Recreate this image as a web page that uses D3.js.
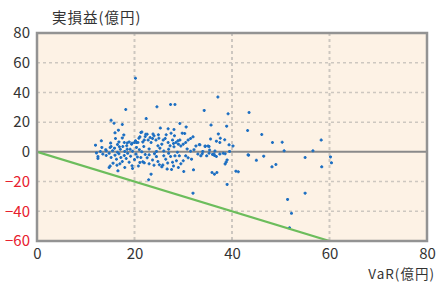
<!DOCTYPE html>
<html>
<head>
<meta charset="utf-8">
<script src="https://cdn.jsdelivr.net/npm/d3@7"></script>
<style>
body{margin:0;background:#fff;}
svg{display:block;font-family:"Noto Sans CJK JP","Noto Sans",sans-serif;}
</style>
</head>
<body>
<div id="chart"></div>
<script>
// 軸の目盛
var xTicks = [0, 20, 40, 60, 80];
var yTicks = [-60, -40, -20, 0, 20, 40, 60, 80];
var yLabel = '実損益(億円)';
var xLabel = 'VaR(億円)';

// 損失 = VaR の線
var varLine = [[0, 0], [60, -60]];

// [VaR, 実損益]
var samples = [
    // 上側・散らばった点
    [20.2,49.5],[24.6,30.4],[27.4,31.9],[28.3,31.9],[18.2,28.5],[34.3,27.9],[37.1,36.9],[39.2,25.6],
    [43.5,26.5],[22.4,22.4],[15.2,21.2],[15.8,19.3],[17.5,18.4],[29.3,19.1],[35.7,18.0],[38.9,17.3],
    [43.2,14.4],[46.1,11.7],[37.2,12.1],[25.3,16.0],[26.9,15.6],[28.1,15.0],[30.6,16.8],[16.7,14.6],
    [16.0,12.8],[17.8,11.4],[21.5,13.4],[28.2,10.8],[29.8,12.6],[30.3,12.4],
    // 右側
    [35.6,8.7],[36.8,7.2],[37.6,9.2],[37.5,6.3],[38.5,8.1],[39.4,4.7],[40.2,4.0],[33.4,4.7],
    [34.5,3.6],[35.3,3.6],[48.3,6.3],[50.3,6.5],[50.7,0.7],[56.6,0.7],[58.3,7.9],[43.3,-2.0],
    [46.5,-2.9],[45.0,-5.7],[48.2,-10.1],[49.0,-8.5],[55.0,-3.8],[58.4,-10.1],[60.2,-3.4],[60.4,-7.4],
    [36.3,-1.5],[36.8,-3.1],[38.8,-6.9],[39.0,-5.4],[38.6,-1.3],[38.6,-8.1],[35.9,-13.9],[36.4,-15.0],
    [36.9,-13.9],[40.8,-13.0],[41.3,-13.4],[39.0,-21.9],[51.4,-32.0],[55.0,-27.8],[52.2,-41.4],[51.8,-51.1],
    [32.0,-27.8],[43.4,-2.2],
    // 0 より上の密集部
    [12.0,4.5],[13.2,7.4],[13.3,3.0],[14.2,0.7],[14.1,1.5],[15.0,2.9],[15.2,3.6],[15.1,5.9],
    [15.5,0.7],[15.9,2.5],[16.1,9.0],[16.5,5.0],[16.8,6.7],[16.9,3.4],[17.1,1.8],[17.5,9.4],
    [17.6,3.6],[17.9,6.3],[18.4,4.1],[18.5,6.0],[18.5,1.8],[18.9,6.7],[19.1,1.8],[19.4,5.2],
    [19.5,5.8],[19.6,0.4],[20.0,6.3],[20.2,7.4],[20.4,3.0],[20.4,6.3],[20.7,6.3],[20.9,9.2],
    [21.1,10.1],[21.3,13.0],[21.7,6.7],[21.9,3.6],[22.0,7.9],[22.3,11.9],[22.6,11.9],[22.8,7.9],
    [23.2,9.7],[23.4,6.3],[23.7,9.0],[24.0,10.8],[24.4,7.9],[24.8,4.1],[25.0,9.2],[25.6,5.2],
    [25.9,7.9],[26.3,9.0],[26.9,6.3],[27.3,4.1],[27.8,7.9],[28.0,5.6],[28.1,3.4],[28.5,6.3],
    [28.9,7.4],[29.0,5.2],[29.3,7.9],[29.5,4.0],[30.0,5.2],[30.5,6.3],[31.0,7.9],[31.5,9.0],
    [32.0,10.1],[32.6,4.0],[33.3,5.0],[34.5,4.0],[35.1,4.0],[35.4,1.3],[26.5,11.5],[27.5,12.5],
    [24.9,11.5],[22.2,10.3],[23.8,12.0],[27.0,1.8],[30.8,2.0],[32.2,1.5],[25.2,2.5],[23.0,2.0],
    [21.0,1.5],
    // 0 付近
    [13.0,0.2],[16.5,-0.3],[18.0,0.3],[21.5,0.0],[24.5,0.3],[26.0,0.5],[28.8,-0.3],[31.5,0.4],
    [34.0,0.3],[36.5,0.6],[39.5,0.3],
    // 0 より下の密集部
    [12.2,-0.7],[12.5,-3.1],[12.5,-4.4],[13.5,-1.5],[14.2,-2.5],[14.8,-1.0],[15.2,-3.8],[15.6,-7.6],
    [14.8,-10.5],[15.0,-9.6],[16.0,-2.2],[16.3,-5.0],[16.6,-12.8],[16.8,-1.2],[17.2,-3.8],[17.5,-6.5],
    [17.9,-2.5],[18.3,-4.5],[18.6,-1.0],[18.9,-7.0],[19.2,-3.0],[19.5,-9.4],[19.6,-11.2],[20.0,-5.2],
    [20.3,-1.5],[20.6,-3.5],[21.1,-7.1],[21.3,-3.8],[21.7,-6.7],[22.0,-7.4],[22.2,-1.8],[22.6,-4.0],
    [23.0,-2.0],[23.4,-15.0],[22.9,-18.8],[23.7,-5.5],[24.1,-1.2],[24.5,-3.2],[25.1,-8.7],[25.6,-10.1],
    [25.8,-8.9],[26.0,-2.6],[26.4,-5.0],[26.7,-11.6],[27.0,-1.0],[27.4,-3.1],[27.6,-11.9],[27.8,-7.0],
    [28.0,-9.5],[28.3,-2.7],[28.6,-6.0],[29.2,-2.7],[29.5,-8.0],[30.0,-6.0],[30.1,-13.2],[30.5,-2.7],
    [31.0,-4.0],[31.7,-4.9],[32.1,-12.1],[33.0,-1.5],[33.6,-2.7],[33.9,-1.3],[34.8,-2.7],[35.3,-0.9],
    [36.0,-1.7],[36.4,-2.4],[37.5,-1.5],[38.2,-0.9],[16.4,-9.0],[17.0,-8.0],[18.0,-10.5],[20.8,-9.5],
    [24.0,-9.0],[29.0,-10.5],[26.8,-7.5],[24.8,-6.5],[23.0,-8.0]
];

var width = 436, height = 283;
var plot = {left:37, top:33, right:427, bottom:241};

var svg = d3.select('#chart').append('svg')
    .attr('width', width)
    .attr('height', height);

var x = d3.scaleLinear().domain([0, 80]).range([plot.left, plot.right]);
var y = d3.scaleLinear().domain([-60, 80]).range([plot.bottom, plot.top]);

// 背景
svg.append('rect')
    .attr('x', plot.left).attr('y', plot.top)
    .attr('width', plot.right - plot.left)
    .attr('height', plot.bottom - plot.top)
    .style('fill', '#fdf2e5');

svg.append('defs').append('clipPath').attr('id', 'plot-clip')
    .append('rect')
    .attr('x', plot.left).attr('y', plot.top)
    .attr('width', plot.right - plot.left)
    .attr('height', plot.bottom - plot.top);

// グリッド
var $grid = svg.append('g').attr('class', 'grid');
$grid.selectAll('line.gx')
    .data(xTicks.filter(function(d){ return d > 0 && d < 80; }))
    .enter().append('line')
    .attr('class', 'gx')
    .attr('x1', function(d){ return x(d); })
    .attr('x2', function(d){ return x(d); })
    .attr('y1', plot.top).attr('y2', plot.bottom)
    .style('stroke', '#cdc7c0')
    .style('stroke-width', 2)
    .style('stroke-dasharray', '3,3');
$grid.selectAll('line.gy')
    .data(yTicks.filter(function(d){ return d !== 0 && d > -60 && d < 80; }))
    .enter().append('line')
    .attr('class', 'gy')
    .attr('x1', plot.left).attr('x2', plot.right)
    .attr('y1', function(d){ return y(d); })
    .attr('y2', function(d){ return y(d); })
    .style('stroke', '#cdc7c0')
    .style('stroke-width', 1.5)
    .style('stroke-dasharray', '3,3');

// 0 の線
svg.append('line')
    .attr('x1', plot.left).attr('x2', plot.right)
    .attr('y1', y(0)).attr('y2', y(0))
    .style('stroke', '#8a8a8a')
    .style('stroke-width', 2);

// 散布点
svg.append('g')
    .attr('clip-path', 'url(#plot-clip)')
    .selectAll('path')
    .data(samples)
    .enter().append('path')
    .attr('d', function(d){
        var cx = x(d[0]), cy = y(d[1]);
        return 'M' + (cx - 1.5) + ',' + (cy - 0.8) + 'h3v1.6h-3z' +
               'M' + (cx - 0.8) + ',' + (cy - 1.5) + 'h1.6v3h-1.6z';
    })
    .style('fill', '#1d6fc2');

// VaR の線
svg.append('path')
    .datum(varLine)
    .attr('clip-path', 'url(#plot-clip)')
    .attr('d', d3.line().x(function(d){ return x(d[0]); }).y(function(d){ return y(d[1]); }))
    .style('fill', 'none')
    .style('stroke', '#6cbd5c')
    .style('stroke-width', 2.2);

// 枠
svg.append('rect')
    .attr('x', plot.left).attr('y', plot.top)
    .attr('width', plot.right - plot.left)
    .attr('height', plot.bottom - plot.top)
    .style('fill', 'none')
    .style('stroke', '#939393')
    .style('stroke-width', 2.5);

// 軸
var axisY = d3.axisLeft(y).tickValues(yTicks).tickSize(0).tickPadding(6);
var $axisY = svg.append('g')
    .attr('transform', 'translate(' + (plot.left - 1) + ',0)')
    .call(axisY);
var axisX = d3.axisBottom(x).tickValues(xTicks).tickSize(0).tickPadding(6);
var $axisX = svg.append('g')
    .attr('transform', 'translate(0,' + (plot.bottom + 1) + ')')
    .call(axisX);
[$axisX, $axisY].forEach(function($a){
    $a.select('.domain').remove();
    $a.selectAll('text')
        .style('font-family', '"Noto Sans CJK JP","Noto Sans",sans-serif')
        .style('font-size', '15px');
});
$axisY.selectAll('text').style('fill', function(d){ return d < 0 ? '#e8202e' : '#333'; });
$axisX.selectAll('text').style('fill', '#333');

// 軸タイトル
svg.append('text')
    .attr('x', 52).attr('y', 23)
    .style('font-size', '14.5px')
    .style('letter-spacing', '1px')
    .style('fill', '#333')
    .text(yLabel);
svg.append('text')
    .attr('x', 435).attr('y', 279)
    .attr('text-anchor', 'end')
    .style('font-size', '13.5px')
    .style('letter-spacing', '1px')
    .style('fill', '#333')
    .text(xLabel);
</script>
</body>
</html>
